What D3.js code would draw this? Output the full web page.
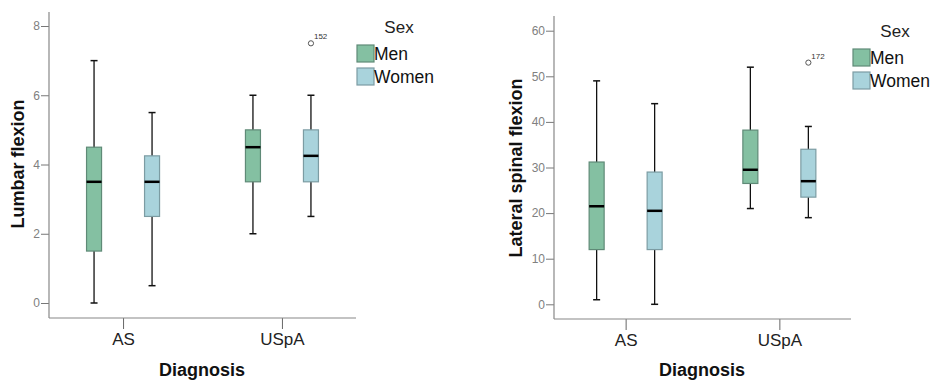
<!DOCTYPE html>
<html><head><meta charset="utf-8">
<script src="https://cdn.jsdelivr.net/npm/d3@7"></script>
<style>body{margin:0;background:#fff;}svg{display:block;font-family:"Liberation Sans",Arial,sans-serif;}</style>
</head><body>
<svg id="chart" width="938" height="380"></svg>
<script>
// ---- data ----
const categories = ["AS", "USpA"];
const sexes = ["Men", "Women"];
// [min, q1, median, q3, max] per category
const lumbarMen   = [[0, 1.5, 3.5, 4.5, 7], [2, 3.5, 4.5, 5, 6]];
const lumbarWomen = [[0.5, 2.5, 3.5, 4.25, 5.5], [2.5, 3.5, 4.25, 5, 6]];
const lumbarOutliers = [{cat: "USpA", sex: "Women", value: 7.5, id: "152"}];
const lumbarTicks = [0, 2, 4, 6, 8];

const lateralMen   = [[1, 12, 21.5, 31.2, 49], [21, 26.5, 29.5, 38.2, 52]];
const lateralWomen = [[0, 12, 20.5, 29, 44], [19, 23.5, 27, 34, 39]];
const lateralOutliers = [{cat: "USpA", sex: "Women", value: 53, id: "172"}];
const lateralTicks = [0, 10, 20, 30, 40, 50, 60];

const colors = {Men: "#84c0a2", Women: "#a9d3dc"};
const strokeCol = {Men: "#5f8a77", Women: "#7c9ca3"};

const svg = d3.select("#chart");

function panel(cfg) {
  const g = svg.append("g");
  const y = d3.scaleLinear().domain(cfg.domain).range([cfg.y0, cfg.y1]);
  const x = d3.scalePoint().domain(categories).range([cfg.xl, cfg.xr]).padding(0.466);
  const off = d3.scalePoint().domain(sexes).range([-29, 29]);

  // y axis
  const ya = g.append("g").attr("transform", `translate(${cfg.xl},0)`)
    .call(d3.axisLeft(y).tickValues(cfg.ticks).tickSize(8).tickSizeOuter(0).tickPadding(1));
  ya.select(".domain").remove();
  ya.selectAll(".tick line").attr("stroke", "#777");
  ya.selectAll(".tick text").attr("fill", "#808080").style("font-size", "12px")
    .style("font-family", "'Liberation Sans',Arial,sans-serif");
  g.append("line").attr("x1", cfg.xl).attr("x2", cfg.xl).attr("y1", cfg.axTop).attr("y2", cfg.axBot)
    .attr("stroke", "#888").attr("stroke-width", 1.2);

  // x axis
  const xa = g.append("g").attr("transform", `translate(0,${cfg.axBot})`)
    .call(d3.axisBottom(x).tickSize(11).tickSizeOuter(0).tickPadding(4));
  xa.select(".domain").remove();
  xa.selectAll(".tick line").attr("stroke", "#666");
  xa.selectAll(".tick text").attr("fill", "#222").style("font-size", "17px");
  g.append("line").attr("x1", cfg.xl).attr("x2", cfg.xr).attr("y1", cfg.axBot).attr("y2", cfg.axBot)
    .attr("stroke", "#888").attr("stroke-width", 1.2);

  // boxes
  const rows = [];
  categories.forEach((c, i) => {
    rows.push({cat: c, sex: "Men", s: cfg.men[i]});
    rows.push({cat: c, sex: "Women", s: cfg.women[i]});
  });
  const bw = 15, cw = 7;
  const b = g.selectAll(".box").data(rows).join("g")
    .attr("transform", d => `translate(${x(d.cat) + off(d.sex)},0)`);
  b.append("line").attr("x1", 0).attr("x2", 0).attr("y1", d => y(d.s[0])).attr("y2", d => y(d.s[4]))
    .attr("stroke", "#111").attr("stroke-width", 1.3);
  b.append("line").attr("x1", -cw/2).attr("x2", cw/2).attr("y1", d => y(d.s[0])).attr("y2", d => y(d.s[0]))
    .attr("stroke", "#111").attr("stroke-width", 1.5);
  b.append("line").attr("x1", -cw/2).attr("x2", cw/2).attr("y1", d => y(d.s[4])).attr("y2", d => y(d.s[4]))
    .attr("stroke", "#111").attr("stroke-width", 1.5);
  b.append("rect").attr("x", -bw/2).attr("width", bw)
    .attr("y", d => y(d.s[3])).attr("height", d => y(d.s[1]) - y(d.s[3]))
    .attr("fill", d => colors[d.sex]).attr("stroke", d => strokeCol[d.sex]).attr("stroke-width", 1.2);
  b.append("line").attr("x1", -bw/2).attr("x2", bw/2).attr("y1", d => y(d.s[2])).attr("y2", d => y(d.s[2]))
    .attr("stroke", "#000").attr("stroke-width", 2.5);

  // outliers
  const o = g.selectAll(".out").data(cfg.outliers).join("g")
    .attr("transform", d => `translate(${x(d.cat) + off(d.sex)},${y(d.value)})`);
  o.append("circle").attr("r", 2.6).attr("fill", "#fff").attr("stroke", "#555").attr("stroke-width", 1);
  o.append("text").attr("x", 3).attr("y", -4).text(d => d.id).style("font-size", "8px").attr("fill", "#333");

  // axis titles
  g.append("text").attr("transform", `translate(${cfg.ylabX},${cfg.ylabY}) rotate(-90)`)
    .attr("text-anchor", "middle").style("font-size", "18px").style("font-weight", "bold").attr("fill", "#111")
    .text(cfg.ylabel);
  g.append("text").attr("x", cfg.xlabX).attr("y", 376).attr("text-anchor", "middle")
    .style("font-size", "18px").style("font-weight", "bold").attr("fill", "#111").text("Diagnosis");

  // legend
  const lg = g.append("g").attr("transform", `translate(${cfg.legX},${cfg.legY})`);
  lg.append("text").attr("x", 42).attr("y", 0).attr("text-anchor", "middle")
    .style("font-size", "17px").attr("fill", "#222").text("Sex");
  const li = lg.selectAll(".li").data(sexes).join("g")
    .attr("transform", (d, i) => `translate(0,${12 + i * 23})`);
  li.append("rect").attr("width", 17).attr("height", 17)
    .attr("fill", d => colors[d]).attr("stroke", d => strokeCol[d]).attr("stroke-width", 1.2);
  li.append("text").attr("x", 17).attr("y", 15).style("font-size", "17.5px").attr("fill", "#111").text(d => d);
}

panel({domain: [0, 8], y0: 303, y1: 26, xl: 49, xr: 356, axTop: 12, axBot: 318,
  ticks: lumbarTicks, men: lumbarMen, women: lumbarWomen, outliers: lumbarOutliers,
  ylabel: "Lumbar flexion", ylabX: 24, ylabY: 164, xlabX: 202, legX: 357, legY: 33});

panel({domain: [0, 60], y0: 304.3, y1: 30.7, xl: 554, xr: 851, axTop: 16, axBot: 319,
  ticks: lateralTicks, men: lateralMen, women: lateralWomen, outliers: lateralOutliers,
  ylabel: "Lateral spinal flexion", ylabX: 521.5, ylabY: 168, xlabX: 702, legX: 853, legY: 37});
</script>
</body></html>
